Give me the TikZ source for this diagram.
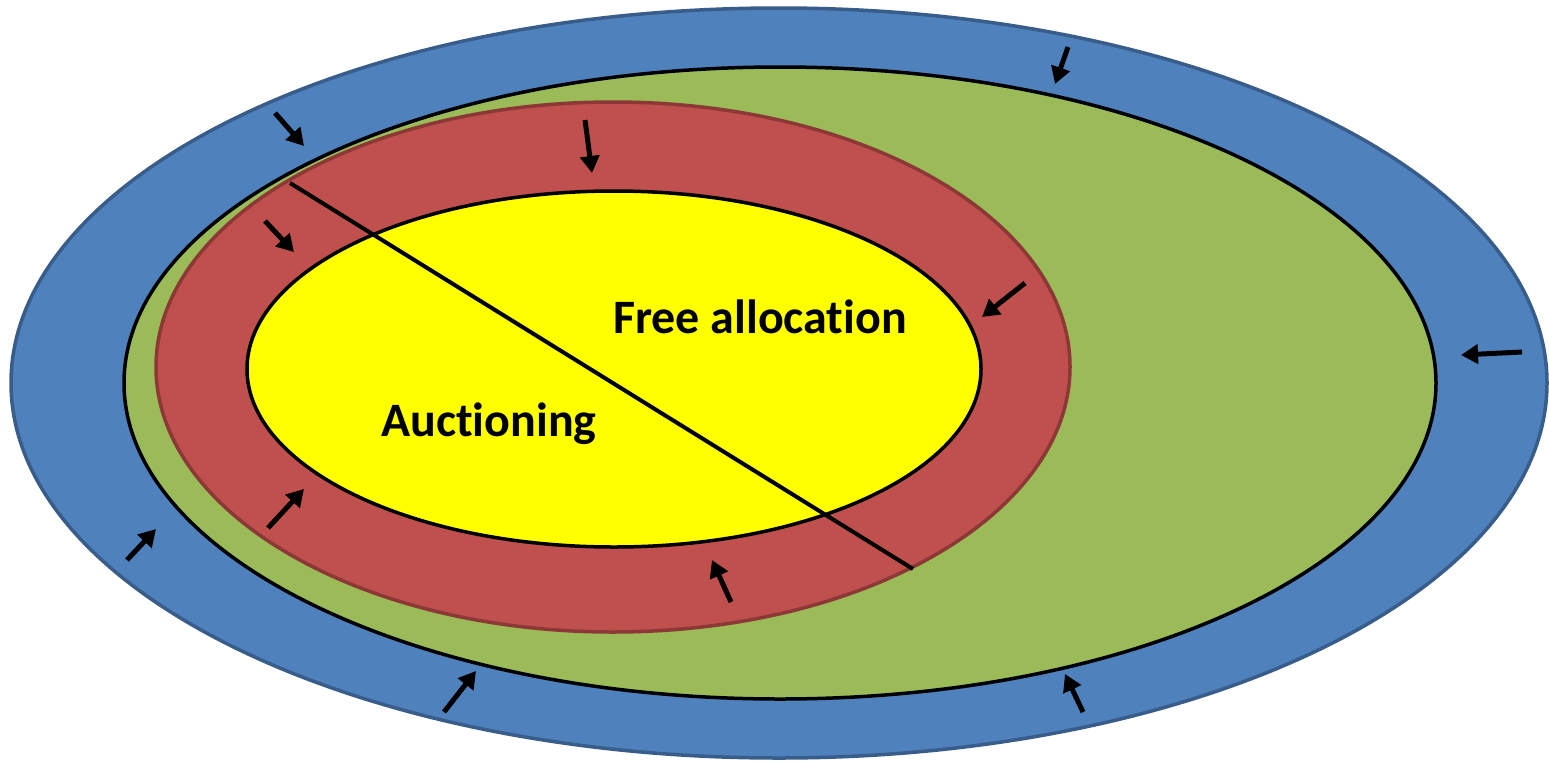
\documentclass[tikz,border=0pt]{standalone}
\usepackage{fontspec}
\setmainfont{Carlito}[Ligatures={NoCommon}]
\usetikzlibrary{arrows.meta}
\definecolor{blueF}{HTML}{4F81BD}
\definecolor{blueD}{HTML}{385D8A}
\definecolor{greenF}{HTML}{9BBB59}
\definecolor{redF}{HTML}{C0504D}
\definecolor{redD}{HTML}{8C3836}
\definecolor{yelF}{HTML}{FFFF00}
\tikzset{
  ring/.style={line width=3.5pt},
  arr/.style={line width=5pt,-{Triangle[length=17pt,width=19pt]}},
  lbl/.style={font=\fontsize{48}{52}\selectfont\bfseries,inner sep=0pt}
}
\begin{document}
\begin{tikzpicture}[x=1pt,y=-1pt]
\useasboundingbox (0,0) rectangle (1549,761);
\fill[white] (0,0) rectangle (1549,761);
\draw[ring,fill=blueF,draw=blueD] (779,383) ellipse [x radius=768, y radius=375];
\draw[ring,fill=greenF,draw=black] (780,383) ellipse [x radius=656, y radius=316];
\draw[ring,fill=redF,draw=redD] (613,367) ellipse [x radius=457, y radius=265];
\draw[ring,fill=yelF,draw=black] (614,369) ellipse [x radius=367, y radius=178];
\coordinate (d1) at (290,183);
\coordinate (d2) at (913,569);
\draw[line width=4pt] (d1) -- (d2);
\node[lbl] (free) at (760,317) {Free allocation};
\node[lbl] (auc) at (489,424) {Auctioning};
% arrows
\draw[arr] (1068,47) -- (1055,84);
\draw[arr] (275,113) -- (304,146);
\draw[arr] (585,120) -- (592,173);
\draw[arr] (265,221) -- (294,252);
\draw[arr] (1025,283) -- (982,317);
\draw[arr] (1522,352) -- (1461,355);
\draw[arr] (268,528) -- (304,489);
\draw[arr] (127,560) -- (156,529);
\draw[arr] (731,602) -- (712,560);
\draw[arr] (444,712) -- (476,671);
\draw[arr] (1083,712) -- (1065,674);
\end{tikzpicture}
\end{document}
